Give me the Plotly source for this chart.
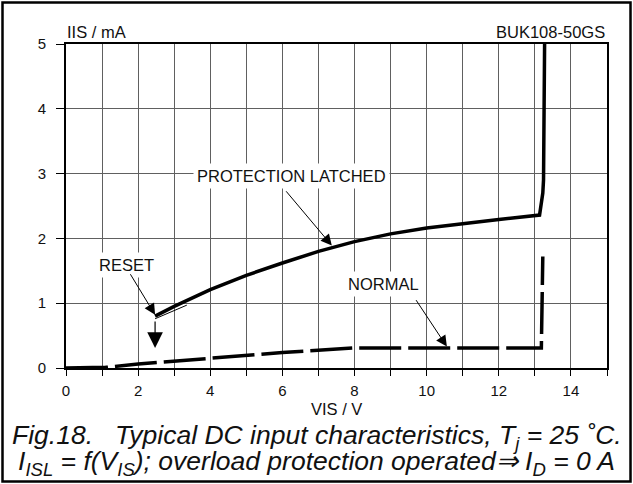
import plotly.graph_objects as go

# Data
latched_x = [2.47, 3.0, 4.0, 5.0, 6.0, 7.0, 8.0, 9.0, 10.0, 11.0, 12.0, 13.13, 13.22, 13.24, 13.27]
latched_y = [0.80, 0.95, 1.21, 1.43, 1.62, 1.80, 1.95, 2.07, 2.16, 2.23, 2.29, 2.36, 2.70, 2.90, 5.0]

normal_x = [0.0, 1.1, 2.0, 4.0, 6.0, 8.0, 13.18, 13.22]
normal_y = [0.0, 0.01, 0.06, 0.15, 0.24, 0.31, 0.31, 1.72]

x_ticks = list(range(0, 16))
x_labels = [str(v) if v % 2 == 0 and v <= 14 else "" for v in x_ticks]
y_ticks = [0, 1, 2, 3, 4, 5]

FONT = "Liberation Sans, Arial, sans-serif"
W, H = 633, 484
L, R, T, B = 66, 26, 44, 116
PW, PH = W - L - R, H - T - B


def px(xpix):
    return (xpix - L) / PW


def py(ypix):
    return (H - B - ypix) / PH


fig = go.Figure()
fig.add_trace(go.Scatter(x=normal_x, y=normal_y, mode="lines",
                         line=dict(color="black", width=3.5, dash="42px,7px"),
                         showlegend=False, hoverinfo="skip"))
fig.add_trace(go.Scatter(x=latched_x, y=latched_y, mode="lines",
                         line=dict(color="black", width=3.5),
                         showlegend=False, hoverinfo="skip"))

LBL = dict(family=FONT, size=16.5, color="#111")
annotations = []
annotations.append(dict(x=6.26, y=2.97, xref="x", yref="y", text="PROTECTION LATCHED",
                        showarrow=False, bgcolor="white", borderpad=3, font=LBL))
annotations.append(dict(x=1.68, y=1.59, xref="x", yref="y", text="RESET",
                        showarrow=False, bgcolor="white", borderpad=3, font=LBL))
annotations.append(dict(x=8.8, y=1.29, xref="x", yref="y", text="NORMAL",
                        showarrow=False, bgcolor="white", borderpad=3, font=LBL))
for (tx, ty, ax, ay) in [(7.37, 1.89, 6.07, 2.75), (2.47, 0.82, 1.76, 1.47), (10.56, 0.33, 9.68, 1.07)]:
    annotations.append(dict(x=tx, y=ty, ax=ax, ay=ay, xref="x", yref="y", axref="x", ayref="y",
                            text="", showarrow=True, arrowhead=2, arrowsize=2.2, arrowwidth=1,
                            arrowcolor="black"))
annotations.append(dict(x=2.47, y=0.31, ax=2.47, ay=0.74, xref="x", yref="y", axref="x", ayref="y",
                        text="", showarrow=True, arrowhead=2, arrowsize=2.6, arrowwidth=1.2,
                        arrowcolor="black"))

HDR = dict(family=FONT, size=16.5, color="#111")
annotations.append(dict(x=px(65), y=py(32), xref="paper", yref="paper", text="IIS / mA",
                        showarrow=False, xanchor="left", yanchor="middle", font=HDR))
annotations.append(dict(x=1.0, y=py(32), xref="paper", yref="paper", text="BUK108-50GS",
                        showarrow=False, xanchor="right", yanchor="middle", font=HDR))
annotations.append(dict(x=0.5, y=py(409), xref="paper", yref="paper", text="VIS / V",
                        showarrow=False, xanchor="center", yanchor="middle", font=HDR))
CAP = dict(family=FONT, size=26.5, color="#111")
annotations.append(dict(x=px(316.5), y=py(437), xref="paper", yref="paper",
                        text="<i>Fig.18.\u00a0\u00a0\u00a0Typical DC input characteristics, T<sub>j</sub> = 25 \u02daC.</i>",
                        showarrow=False, xanchor="center", yanchor="middle", font=CAP))
annotations.append(dict(x=px(316.5), y=py(463), xref="paper", yref="paper",
                        text="<i>I<sub>ISL</sub> = f(V<sub>IS</sub>); overload protection operated\u21d2 I<sub>D</sub> = 0 A</i>",
                        showarrow=False, xanchor="center", yanchor="middle", font=CAP))

shapes = [
    dict(type="line", xref="x", yref="y", x0=2.47, y0=0.76, x1=3.35, y1=0.97,
         line=dict(color="black", width=1)),
    dict(type="rect", xref="paper", yref="paper", x0=px(2.5), x1=px(630.5), y0=py(481.5), y1=py(2.5),
         line=dict(color="black", width=2.5), layer="below"),
]

fig.update_layout(
    width=W, height=H,
    margin=dict(l=L, r=R, t=T, b=B, pad=0),
    paper_bgcolor="white", plot_bgcolor="white",
    font=dict(family=FONT, size=14, color="#111"),
    showlegend=False,
    annotations=annotations,
    shapes=shapes,
    xaxis=dict(range=[0, 15], tickmode="array", tickvals=x_ticks, ticktext=x_labels,
               ticks="outside", ticklen=6, tickwidth=1, tickcolor="black",
               showgrid=True, gridcolor="#606060", gridwidth=1,
               showline=True, linecolor="black", linewidth=2, mirror=True,
               zeroline=False, fixedrange=True, tickfont=dict(size=15), ticklabelstandoff=2),
    yaxis=dict(range=[0, 5], tickmode="array", tickvals=y_ticks,
               ticks="outside", ticklen=8, tickwidth=1, tickcolor="black",
               showgrid=True, gridcolor="#606060", gridwidth=1,
               showline=True, linecolor="black", linewidth=2, mirror=True,
               zeroline=False, fixedrange=True, tickfont=dict(size=15), ticklabelstandoff=7),
)

fig.write_html("out.html", config={"displayModeBar": False},
               post_script="document.body.style.margin='0';document.body.style.overflow='hidden';")
